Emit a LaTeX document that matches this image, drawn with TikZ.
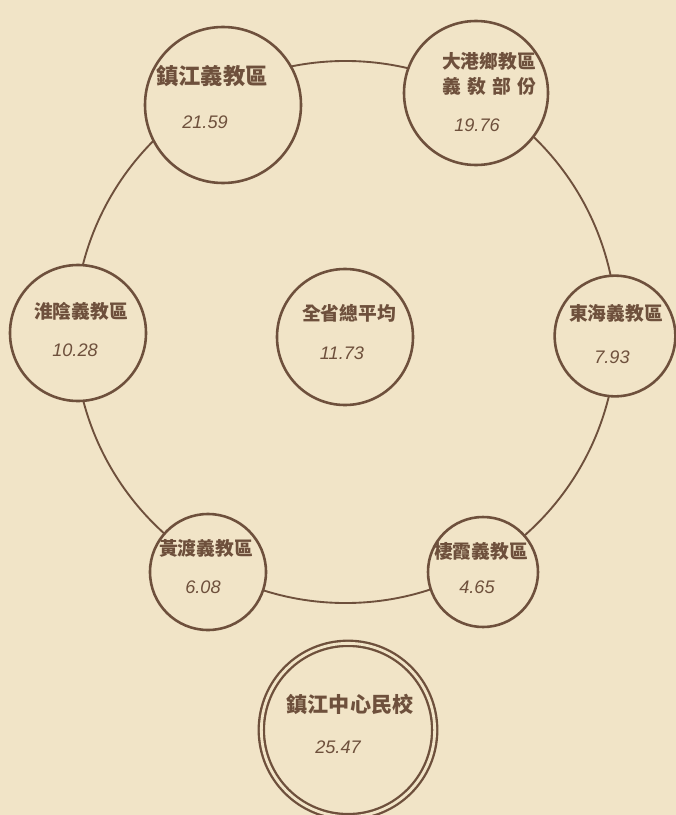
\documentclass[tikz,border=0pt]{standalone}
\usepackage{fontspec}
\newfontfamily\cjk{Noto Sans CJK TC}
\newfontfamily\numfont{Liberation Sans}
\definecolor{paper}{RGB}{241,228,199}
\definecolor{ink}{RGB}{110,80,60}
\begin{document}
\begin{tikzpicture}[x=0.03cm, y=-0.03cm,
  district/.style={draw=ink, fill=paper, circle, line width=2.2pt, inner sep=0pt},
  lbl/.style={text=ink, font=\cjk\bfseries\fontsize{16}{21}\selectfont, align=center},
  val/.style={text=ink, font=\numfont\itshape\fontsize{15.5}{17}\selectfont}]
\useasboundingbox (0,0) rectangle (676,815);
\fill[paper] (0,0) rectangle (676,815);
\draw[draw=ink, line width=1.6pt] (345.5,332) circle [radius=8.13cm];

% district circles round the ring
\node[district, minimum size=4.68cm] (zhenjiang) at (223,105) {};
\node[district, minimum size=4.32cm] (dagang) at (476,93) {};
\node[district, minimum size=4.08cm] (huaiyin) at (78,333) {};
\node[district, minimum size=4.08cm] (mean) at (345,337) {};
\node[district, minimum size=3.62cm] (donghai) at (615,336) {};
\node[district, minimum size=3.48cm] (huangdu) at (208,572) {};
\node[district, minimum size=3.30cm] (qixia) at (483,572) {};
\node[district, minimum size=5.20cm, double=paper, double distance=2.4pt, line width=2pt] (centre) at (348,730) {};

% names and values
\node[lbl, font=\cjk\bfseries\fontsize{19}{21}\selectfont] (zhenjiangname) at (212,76) {鎮江義教區};
\node[val] (zhenjiangval) at (205,122) {21.59};
\node[lbl] (dagangname) at (489,74) {大港鄉教區\\\makebox[5em][s]{義\hfill 敎\hfill 部\hfill 份}};
\node[val] (dagangval) at (477,125) {19.76};
\node[lbl] (huaiyinname) at (81,311) {淮陰義教區};
\node[val] (huaiyinval) at (75,350) {10.28};
\node[lbl] (meanname) at (349,313) {全省總平均};
\node[val] (meanval) at (342,353) {11.73};
\node[lbl] (donghainame) at (616,313) {東海義教區};
\node[val] (donghaival) at (612,357) {7.93};
\node[lbl] (huangduname) at (206,548) {黃渡義教區};
\node[val] (huangduval) at (203,587) {6.08};
\node[lbl] (qixianame) at (481,551) {棲霞義教區};
\node[val] (qixiaval) at (477,587) {4.65};
\node[lbl, font=\cjk\bfseries\fontsize{18}{21}\selectfont] (centrename) at (350,704) {鎮江中心民校};
\node[val] (centreval) at (338,747) {25.47};
\end{tikzpicture}
\end{document}
